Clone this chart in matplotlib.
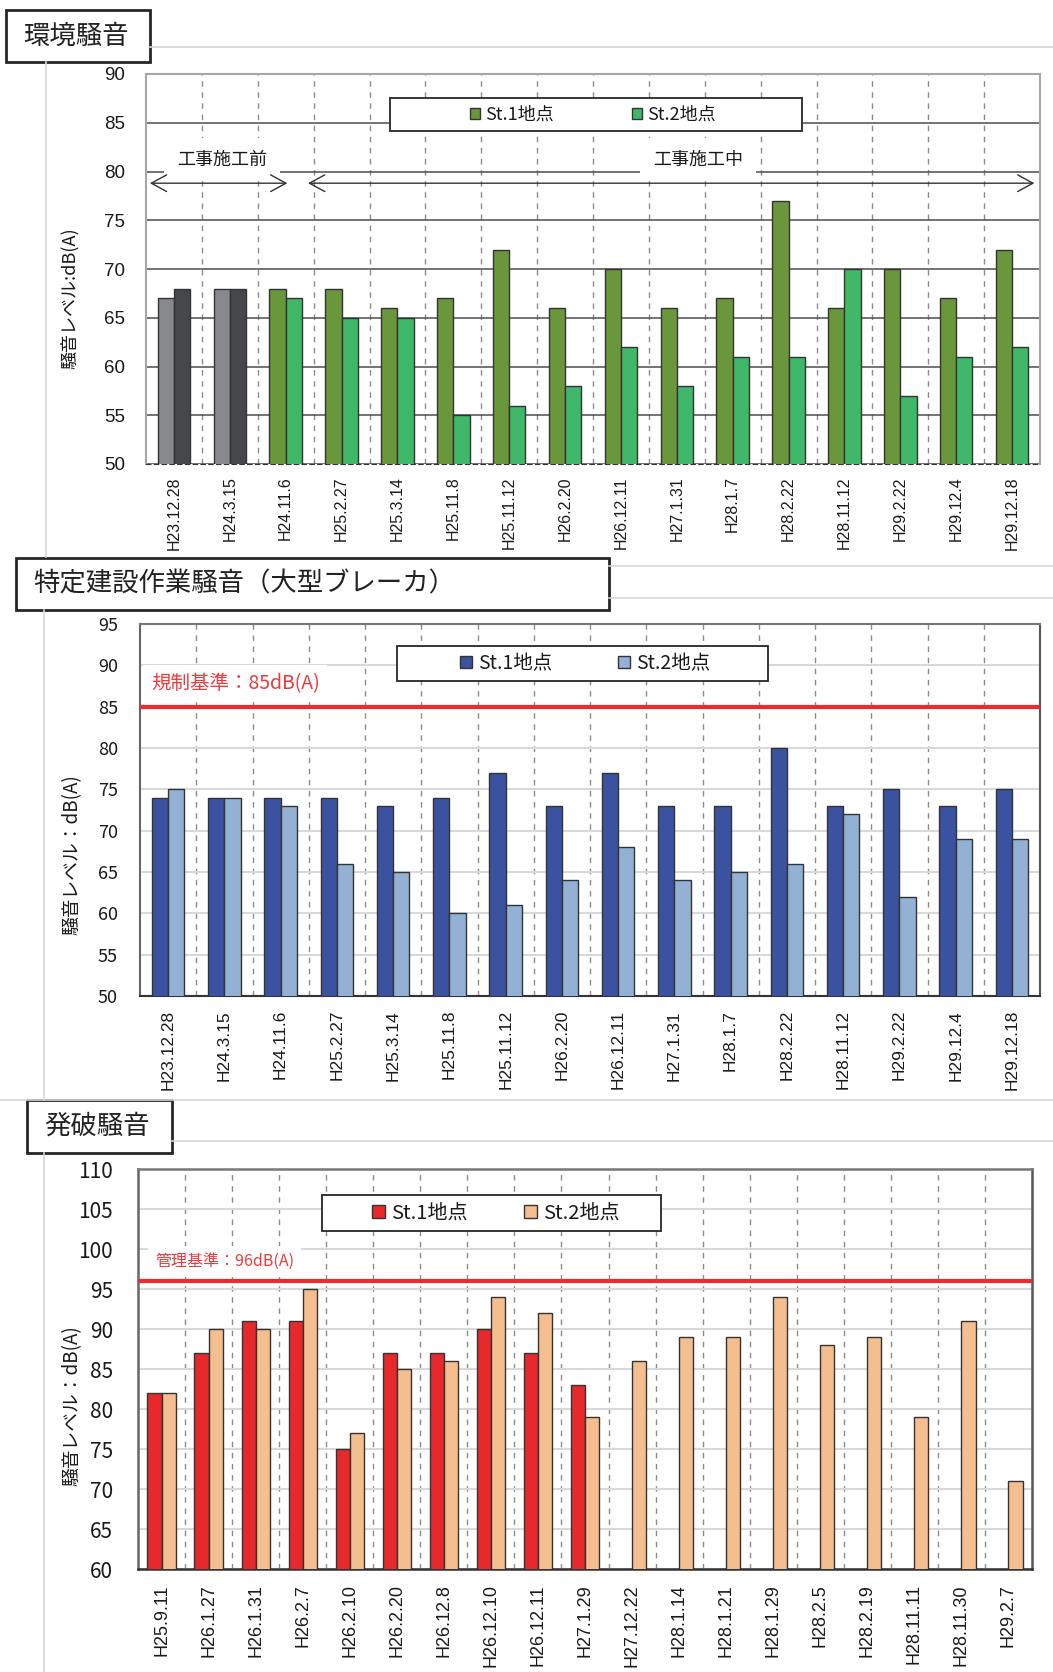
import numpy as np
import matplotlib.pyplot as plt
from matplotlib.patches import Rectangle, FancyArrowPatch
from matplotlib.lines import Line2D

plt.rcParams['font.family'] = ['Noto Sans CJK JP', 'DejaVu Sans']

# --- data ---
env_dates = ['H23.12.28', 'H24.3.15', 'H24.11.6', 'H25.2.27', 'H25.3.14', 'H25.11.8',
             'H25.11.12', 'H26.2.20', 'H26.12.11', 'H27.1.31', 'H28.1.7', 'H28.2.22',
             'H28.11.12', 'H29.2.22', 'H29.12.4', 'H29.12.18']
env_st1 = [67, 68, 68, 68, 66, 67, 72, 66, 70, 66, 67, 77, 66, 70, 67, 72]
env_st2 = [68, 68, 67, 65, 65, 55, 56, 58, 62, 58, 61, 61, 70, 57, 61, 62]
env_before = 2  # number of surveys before construction (grey bars)

brk_dates = env_dates
brk_st1 = [74, 74, 74, 74, 73, 74, 77, 73, 77, 73, 73, 80, 73, 75, 73, 75]
brk_st2 = [75, 74, 73, 66, 65, 60, 61, 64, 68, 64, 65, 66, 72, 62, 69, 69]
brk_limit = 85

blast_dates = ['H25.9.11', 'H26.1.27', 'H26.1.31', 'H26.2.7', 'H26.2.10', 'H26.2.20',
               'H26.12.8', 'H26.12.10', 'H26.12.11', 'H27.1.29', 'H27.12.22', 'H28.1.14',
               'H28.1.21', 'H28.1.29', 'H28.2.5', 'H28.2.19', 'H28.11.11', 'H28.11.30',
               'H29.2.7']
blast_st1 = [82, 87, 91, 91, 75, 87, 87, 90, 87, 83] + [np.nan] * 9
blast_st2 = [82, 90, 90, 95, 77, 85, 86, 94, 92, 79, 86, 89, 89, 94, 88, 89, 79, 91, 71]
blast_limit = 96

# --- figure helpers (pixel -> figure fraction) ---
W, H = 1053, 1672
def fx(px):
    return px / W
def fy(py):
    return 1 - py / H

fig = plt.figure(figsize=(W / 100, H / 100), dpi=100)

def gline(x0, y0, x1, y1):
    fig.add_artist(Line2D([fx(x0), fx(x1)], [fy(y0), fy(y1)], color='#d6d6d6', lw=1.2))

def title_box(x0, y0, x1, y1, text):
    fig.add_artist(Rectangle((fx(x0), fy(y1)), fx(x1) - fx(x0), fy(y0) - fy(y1),
                             transform=fig.transFigure, facecolor='white',
                             edgecolor='#262626', lw=2))
    fig.text(fx(x0 + 17), fy((y0 + y1) / 2), text, fontsize=19, color='#222222',
             ha='left', va='center')

def make_axes(l, t, r, b):
    return fig.add_axes([fx(l), fy(b), fx(r) - fx(l), (b - t) / H])

def base_style(ax, dates, ylo, yhi, xsize, xpad, yfont, ysize, ypad, hgrid):
    n = len(dates)
    ax.set_xlim(-0.5, n - 0.5)
    ax.set_ylim(ylo, yhi)
    ax.set_yticks(np.arange(ylo, yhi + 1, 5))
    ax.set_xticks(np.arange(n))
    ax.set_xticklabels(dates, rotation=90)
    ax.set_xticks(np.arange(0.5, n - 0.5, 1), minor=True)
    ax.tick_params(axis='x', which='both', length=0, pad=xpad, labelsize=xsize,
                   labelfontfamily='Liberation Sans', labelcolor='#1a1a1a')
    ax.tick_params(axis='y', length=0, pad=ypad, labelsize=ysize,
                   labelfontfamily=yfont, labelcolor='#1a1a1a')
    ax.grid(axis='y', which='major', **hgrid)
    ax.grid(axis='x', which='minor', color='#8c8c8c', lw=1, ls=(0, (4, 4)))
    ax.set_axisbelow(True)

def legend_box(ax, x0, y0, x1, y1):
    ax.add_patch(Rectangle((fx(x0), fy(y1)), fx(x1) - fx(x0), fy(y0) - fy(y1),
                           transform=fig.transFigure, facecolor='white',
                           edgecolor='#262626', lw=1.3, zorder=4, clip_on=False))

def add_legend(ax, colors, labels, x, y, size, colsp, hl):
    handles = [Rectangle((0, 0), 1, 1, facecolor=c, edgecolor='#333333', lw=1) for c in colors]
    leg = ax.legend(handles, labels, ncol=2, loc='center left',
                    bbox_to_anchor=(fx(x), fy(y)), bbox_transform=fig.transFigure,
                    frameon=False, borderpad=0, borderaxespad=0, fontsize=size,
                    handlelength=hl, handleheight=hl, handletextpad=0.3,
                    columnspacing=colsp)
    leg.set_zorder(5)
    for t in leg.get_texts():
        t.set_color('#1a1a1a')

# --- decorative frame lines ---
gline(150, 47, W, 47)
gline(46, 62, 46, 557)
gline(609, 566, W, 566)
gline(609, 598, W, 598)
gline(44, 610, 44, 1100)
gline(0, 1100, W, 1100)
gline(172, 1141, W, 1141)
gline(44, 1153, 44, H)

# ================= Panel 1: 環境騒音 =================
title_box(6, 10, 150, 62, '環境騒音')
ax1 = make_axes(146, 74, 1040, 464)
x1 = np.arange(len(env_dates))
w = 0.29
c1 = ['#88898c' if i < env_before else '#6a963c' for i in x1]
c2 = ['#45474a' if i < env_before else '#3fb86a' for i in x1]
ax1.bar(x1 - w / 2, env_st1, w, color=c1, edgecolor='#333333', lw=1, zorder=3)
ax1.bar(x1 + w / 2, env_st2, w, color=c2, edgecolor='#333333', lw=1, zorder=3)
base_style(ax1, env_dates, 50, 90, 11.5, 9, 'Liberation Sans', 13.5, 15,
           dict(color='#4d4d4d', lw=1.1))
for s in ['left', 'top', 'right']:
    ax1.spines[s].set_color('#a6a6a6')
    ax1.spines[s].set_linewidth(1.5)
ax1.spines['bottom'].set_color('#333333')
ax1.spines['bottom'].set_linestyle((0, (4, 3)))

legend_box(ax1, 390, 98, 802, 131)
add_legend(ax1, ['#6a963c', '#3fb86a'], ['St.1地点', 'St.2地点'], 470, 114.5, 13, 4.3, 0.55)

# construction period annotations
ax1.text(0.86, 81.2, '工事施工前', fontsize=13, ha='center', va='center', color='#1a1a1a',
         zorder=4, bbox=dict(facecolor='white', edgecolor='none', boxstyle='square,pad=0.7'))
ax1.text(9.38, 81.2, '工事施工中', fontsize=13, ha='center', va='center', color='#1a1a1a',
         zorder=4, bbox=dict(facecolor='white', edgecolor='none', boxstyle='square,pad=0.7'))
for xa, xb in [(-0.48, 2.08), (2.35, 15.45)]:
    ax1.add_patch(FancyArrowPatch((xa, 78.8), (xb, 78.8),
                                  arrowstyle='<->,head_length=0.55,head_width=0.3',
                                  mutation_scale=20, color='#333333', lw=1, zorder=4))

fig.text(fx(70), fy(298), '騒音レベル:dB(A)', rotation=90, fontsize=13,
         ha='center', va='center', color='#1a1a1a')

# ================= Panel 2: 特定建設作業騒音 =================
title_box(16, 558, 609, 610, '特定建設作業騒音（大型ブレーカ）')
ax2 = make_axes(140, 624, 1040, 996)
x2 = np.arange(len(brk_dates))
ax2.bar(x2 - w / 2, brk_st1, w, color='#3a52a0', edgecolor='#333333', lw=1, zorder=3)
ax2.bar(x2 + w / 2, brk_st2, w, color='#93b0d5', edgecolor='#333333', lw=1, zorder=3)
base_style(ax2, brk_dates, 50, 95, 12.5, 10, 'Noto Sans CJK JP', 13, 16,
           dict(color='#d9d9d9', lw=1.5))
ax2.spines['left'].set_color('#666666')
ax2.spines['top'].set_color('#777777')
ax2.spines['right'].set_color('#555555')
ax2.spines['bottom'].set_color('#333333')
for s in ax2.spines.values():
    s.set_linewidth(1.5)
ax2.axhline(brk_limit, color='#ee2a2e', lw=3, zorder=4)
ax2.text(0.012, 87.8, '規制基準：85dB(A)', transform=ax2.get_yaxis_transform(),
         fontsize=14, color='#ee3a3d', ha='left', va='center', zorder=4,
         bbox=dict(facecolor='white', edgecolor='none', boxstyle='square,pad=0.4'))
legend_box(ax2, 397, 646, 768, 681)
add_legend(ax2, ['#3a52a0', '#93b0d5'], ['St.1地点', 'St.2地点'], 460, 663.5, 14, 3.4, 0.62)
fig.text(fx(72), fy(855), '騒音レベル：dB(A)', rotation=90, fontsize=13.5,
         ha='center', va='center', color='#1a1a1a')

# ================= Panel 3: 発破騒音 =================
title_box(27, 1100, 172, 1153, '発破騒音')
ax3 = make_axes(138, 1169, 1032, 1569)
x3 = np.arange(len(blast_dates))
w3 = 0.3
ax3.bar(x3 - w3 / 2, blast_st1, w3, color='#e8292b', edgecolor='#333333', lw=1, zorder=3)
ax3.bar(x3 + w3 / 2, blast_st2, w3, color='#f4be8f', edgecolor='#333333', lw=1, zorder=3)
base_style(ax3, blast_dates, 60, 110, 13, 11, 'Noto Sans CJK JP', 15, 18,
           dict(color='#d9d9d9', lw=1.5))
ax3.spines['left'].set_color('#666666')
ax3.spines['top'].set_color('#777777')
ax3.spines['right'].set_color('#555555')
ax3.spines['bottom'].set_color('#333333')
for s in ax3.spines.values():
    s.set_linewidth(1.8)
ax3.axhline(blast_limit, color='#ee2a2e', lw=3, zorder=4)
ax3.text(0.019, 98.4, '管理基準：96dB(A)', transform=ax3.get_yaxis_transform(),
         fontsize=11.5, color='#ee3a3d', ha='left', va='center', zorder=4,
         bbox=dict(facecolor='white', edgecolor='none', boxstyle='square,pad=0.45'))
legend_box(ax3, 322, 1195, 661, 1231)
add_legend(ax3, ['#e8292b', '#f4be8f'], ['St.1地点', 'St.2地点'], 372, 1213, 14.5, 2.8, 0.65)
fig.text(fx(72), fy(1406), '騒音レベル：dB(A)', rotation=90, fontsize=13.5,
         ha='center', va='center', color='#1a1a1a')

plt.savefig('out.png', dpi=100, facecolor='white')
